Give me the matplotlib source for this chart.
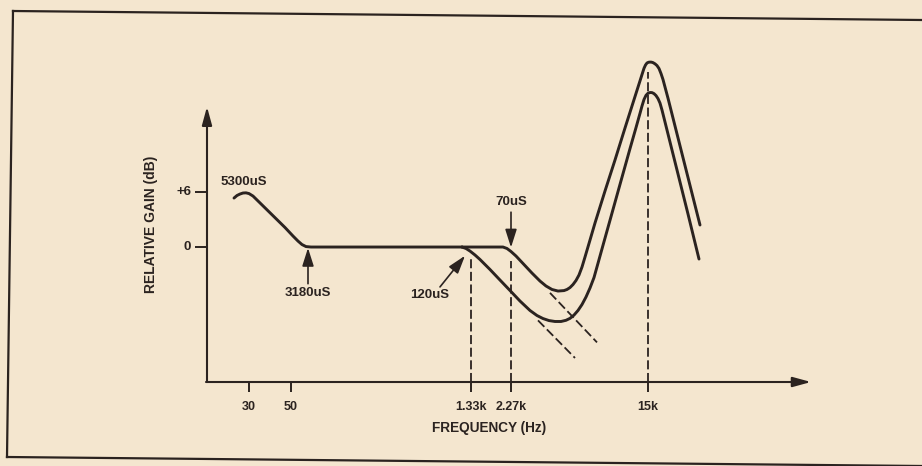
import matplotlib
matplotlib.use('Agg')
import matplotlib.pyplot as plt
import numpy as np
from matplotlib.lines import Line2D

# Кольори "паперу" і чорнила
paper = '#f4e6cf'
ink = '#2b2320'

# Позиції на схематичній осі частот і підписи
tick_pos = [42, 84, 264, 304, 441]
tick_labels = ['30', '50', '1.33k', '2.27k', '15k']
ytick_vals = [0, 6]
ytick_labels = ['0', '+6']

# Спільна частина кривої (низькі частоти, dB)
common_x = [27, 30, 33, 36, 39, 42, 46, 78, 86, 91, 95, 99, 104, 255]
common_db = [5.34, 5.62, 5.78, 5.89, 5.91, 5.83, 5.56, 2.13, 1.20, 0.65, 0.27, 0.05, 0.0, 0.0]

# Крива 70uS (верхня)
upper_x = [255, 296, 300, 304, 309, 317, 325, 333, 339, 345, 351, 357, 360, 363, 366, 369,
           372, 375, 378, 383, 388, 398, 408, 418, 428, 433, 435, 437, 438.5, 440, 441.5,
           443, 444.5, 446, 448, 450, 452, 454, 456, 458, 461, 468, 478, 488, 493]
upper_db = [0.0, 0.0, -0.16, -0.49, -0.98, -1.91, -2.84, -3.71, -4.25, -4.63, -4.80, -4.75,
            -4.63, -4.42, -4.09, -3.65, -3.05, -2.18, -1.09, 0.76, 2.62, 6.11, 9.49, 12.98,
            16.41, 18.12, 18.81, 19.49, 19.85, 20.07, 20.15, 20.17, 20.16, 20.11, 19.98,
            19.79, 19.47, 18.92, 18.27, 17.45, 16.23, 13.20, 8.88, 4.56, 2.40]

# Крива 120uS (нижня)
lower_x = [255, 259, 263, 268, 273, 283, 293, 303, 313, 323, 330, 336, 342, 348, 354, 359,
           363, 367, 371, 375, 379, 383, 387, 391, 396, 403, 413, 423, 429, 433, 435, 437,
           439, 441, 443, 445, 447, 449, 451, 453, 455, 457, 460, 463, 470, 481, 492]
lower_db = [0.0, -0.16, -0.44, -0.87, -1.36, -2.45, -3.60, -4.74, -5.89, -6.92, -7.47, -7.80,
            -8.02, -8.12, -8.12, -7.99, -7.78, -7.42, -6.92, -6.27, -5.45, -4.47, -3.33,
            -1.77, 0.19, 2.92, 6.83, 10.73, 13.02, 14.58, 15.38, 16.09, 16.54, 16.77, 16.85,
            16.84, 16.73, 16.52, 16.19, 15.70, 14.94, 14.07, 12.76, 11.45, 8.40, 3.60, -1.31]

# Асимптоти (штрихові)
asym_upper_x = [343, 390]
asym_upper_db = [-5.0, -10.4]
asym_lower_x = [331, 368]
asym_lower_db = [-8.0, -12.1]

# Межі осей
axis_y = -14.72
axis_top = 15.3
axis_right = 604

fig = plt.figure(figsize=(9.22, 4.66), dpi=100)
fig.patch.set_facecolor(paper)
ax = fig.add_axes([0, 0, 1, 1])
ax.set_facecolor(paper)
ax.set_xlim(-207, 715)
ax.set_ylim(-23.88, 26.94)
ax.axis('off')

font = dict(family=['Liberation Sans', 'DejaVu Sans'], weight='bold', color=ink)

# Рамка (скан трохи повернутий)
def px(x, y):
    return x / 922, 1 - y / 466

for (x0, y0), (x1, y1) in [((13, 11), (922, 20)), ((13, 11), (7, 457)), ((7, 457), (922, 466))]:
    a, b = px(x0, y0)
    c, d = px(x1, y1)
    fig.add_artist(Line2D([a, c], [b, d], transform=fig.transFigure, color=ink, lw=1.6))

# Осі зі стрілками
arrow = dict(arrowstyle='-|>,head_length=1.1,head_width=0.3', lw=1.5, color=ink,
             shrinkA=0, shrinkB=0, mutation_scale=10)
ax.annotate('', xy=(0, axis_top), xytext=(0, axis_y), arrowprops=arrow)
ax.annotate('', xy=(axis_right, axis_y), xytext=(-1, axis_y), arrowprops=arrow)

# Поділки
ax.vlines(tick_pos, axis_y - 1.1, axis_y, color=ink, lw=1.4)
ax.hlines(ytick_vals, -12, 0, color=ink, lw=1.4)
for p, lab in zip(tick_pos, tick_labels):
    ax.text(p, -17.45, lab, ha='center', va='center', fontsize=9, **font)
for v, lab in zip(ytick_vals, ytick_labels):
    ax.text(-16, v, lab, ha='right', va='center', fontsize=9.5, **font)

ax.text(282, -19.7, 'FREQUENCY (Hz)', ha='center', va='center', fontsize=9.8, **font)
ax.text(-56, 2.5, 'RELATIVE GAIN (dB)', ha='center', va='center', rotation=90,
        fontsize=10, **font)

# Штрихові вертикалі від осі до кривих
dash = (0, (5, 2))
for p in tick_pos[2:]:
    top = max(np.interp(p, upper_x, upper_db), np.interp(p, lower_x, lower_db)) - 1.0
    ax.plot([p, p], [axis_y, top], color=ink, lw=1.3, ls=dash)

ax.plot(asym_upper_x, asym_upper_db, color=ink, lw=1.3, ls=dash)
ax.plot(asym_lower_x, asym_lower_db, color=ink, lw=1.3, ls=dash)

# Криві
for xs, ys in [(common_x, common_db), (upper_x, upper_db), (lower_x, lower_db)]:
    ax.plot(xs, ys, color=ink, lw=2.1, solid_capstyle='round', solid_joinstyle='round')

# Підписи постійних часу
small = dict(arrowstyle='-|>,head_length=1.1,head_width=0.35', lw=1.2, color=ink,
             shrinkA=0, shrinkB=0, mutation_scale=10)
ax.text(37, 7.1, '5300uS', ha='center', va='center', fontsize=9.5, **font)
ax.annotate('', xy=(101, -0.1), xytext=(101, -4.0), arrowprops=small)
ax.text(101, -5.0, '3180uS', ha='center', va='center', fontsize=9.5, **font)
ax.annotate('', xy=(258, -0.95), xytext=(233, -4.35), arrowprops=small)
ax.text(223, -5.2, '120uS', ha='center', va='center', fontsize=9.5, **font)
ax.annotate('', xy=(304, -0.05), xytext=(304, 3.8), arrowprops=small)
ax.text(304, 4.9, '70uS', ha='center', va='center', fontsize=9.5, **font)

fig.savefig('out.png', dpi=100, facecolor=paper)
